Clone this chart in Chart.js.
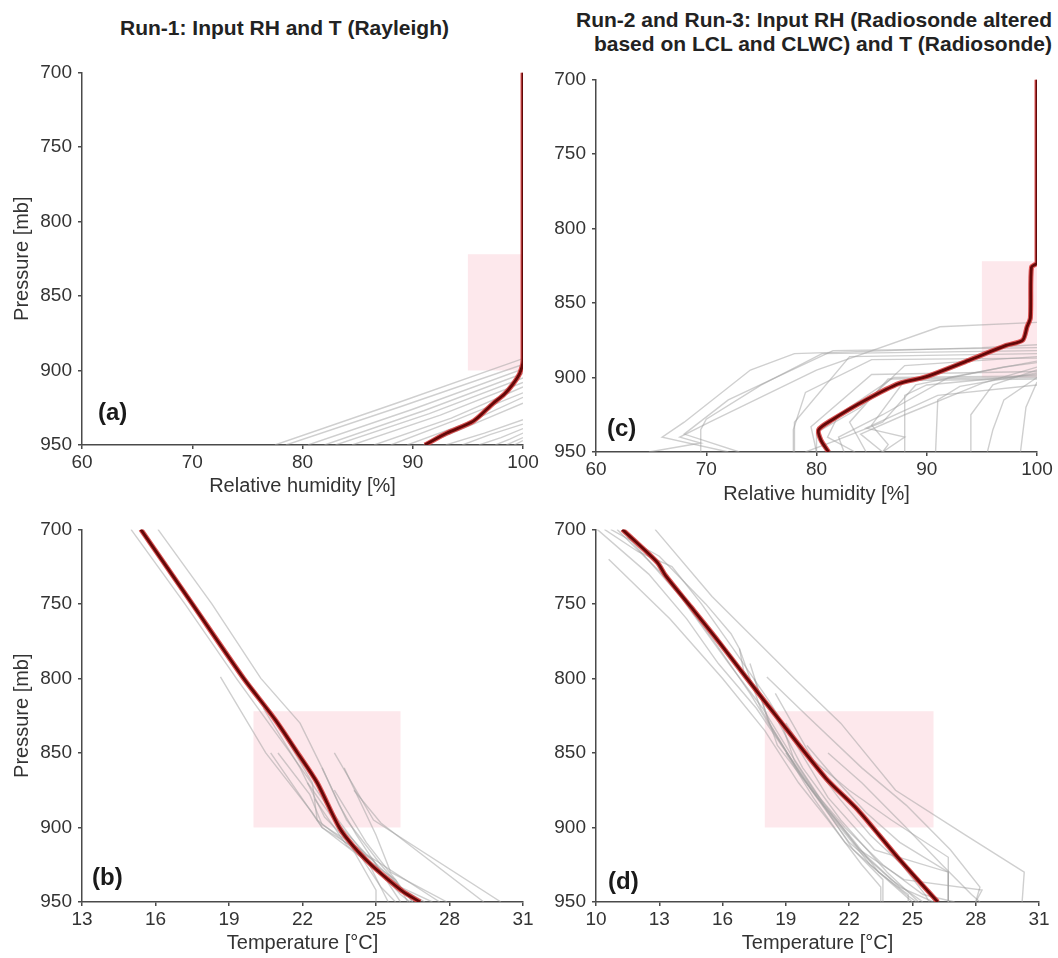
<!DOCTYPE html>
<html>
<head>
<meta charset="utf-8">
<script src="https://cdn.jsdelivr.net/npm/chart.js@4.4.1/dist/chart.umd.min.js"></script>
<style>
  html, body { margin: 0; padding: 0; background: #fff; overflow: hidden; }
  body { width: 1058px; height: 958px; position: relative; font-family: "Liberation Sans", Arial, sans-serif; }
  canvas { position: absolute; }
  .title { position: absolute; font-weight: bold; font-size: 21px; line-height: 24px; color: #222; white-space: nowrap; }
</style>
</head>
<body>
<div class="title" style="left:120px; top:16px;">Run-1: Input RH and T (Rayleigh)</div>
<div class="title" style="right:6px; top:8px; text-align:right;">Run-2 and Run-3: Input RH (Radiosonde altered<br>based on LCL and CLWC) and T (Radiosonde)</div>
<canvas id="chartA"></canvas>
<canvas id="chartB"></canvas>
<canvas id="chartC"></canvas>
<canvas id="chartD"></canvas>
<script>
// tick labels
const pressureTicks = [700, 750, 800, 850, 900, 950];
const rhTicks = [60, 70, 80, 90, 100];
const tempTicksRun1 = [13, 16, 19, 22, 25, 28, 31];
const tempTicksRun2 = [10, 13, 16, 19, 22, 25, 28, 31];

// shaded boxes [xMin, xMax, pTop, pBottom]
const boxA = [95, 100, 822, 900];
const boxB = [20, 26, 822, 900];
const boxC = [95, 100, 822, 900];
const boxD = [18, 26, 822, 900];

// (a) RH, Run-1 : [RH, p]
const rhMeanRun1 = [[100, 700], [100, 893], [99.7, 902], [99.1, 909], [98.3, 916], [97.3, 922], [95.5, 934], [93.1, 942], [91.1, 950]];
const rhProfilesRun1 = [
  [[100, 892], [88.5, 922], [77.5, 950]],
  [[100, 896], [89, 924], [78.5, 950]],
  [[100, 899], [90, 926], [80.5, 950]],
  [[100, 902], [91, 927], [82, 950]],
  [[100, 905], [91.5, 929], [83, 950]],
  [[100, 908], [92.5, 930], [84.5, 950]],
  [[100, 911], [93.5, 932], [86.5, 950]],
  [[100, 915], [94, 933], [88, 950]],
  [[100, 918], [95, 935], [89.5, 950]],
  [[100, 922], [95.5, 936], [91, 950]],
  [[100, 933], [96.5, 942], [93, 950]],
  [[100, 936], [97, 943], [94.5, 950]],
  [[100, 939], [98, 945], [96, 950]],
  [[100, 942], [98.8, 946], [97.5, 950]],
  [[100, 945], [98.5, 950]],
  [[100, 947], [99.2, 950]]
];

// (c) RH, Run-2/3
const rhMeanRun2 = [[100, 700], [100, 823], [99.5, 826], [99.4, 860], [99.1, 866], [98.7, 875], [97.2, 878.5], [93.8, 888.5], [89.9, 899.6], [87.5, 904], [84.5, 915], [81.4, 928.5], [80.2, 935], [80.4, 942], [81.1, 950]];
const rhProfilesRun2 = [
  [[100, 863], [91.2, 866], [80, 895], [70.3, 930], [67.6, 940], [69.5, 944], [64.8, 950]],
  [[100, 880], [81.5, 882], [72, 915], [68, 938], [73, 950]],
  [[100, 882], [80.5, 884], [75, 905], [70, 928], [69.5, 935], [69.5, 950]],
  [[100, 884], [83, 886], [78, 930], [78, 950]],
  [[100, 886], [88, 892], [84, 920], [80, 937], [80, 950]],
  [[100, 889], [92, 900], [86, 925], [82, 940], [82.5, 950]],
  [[100, 893], [95, 904], [88, 925], [84, 938], [86, 950]],
  [[100, 899], [87, 900], [82, 925], [81, 940], [83.5, 950]],
  [[100, 900], [86.5, 901], [83, 930], [84.5, 950]],
  [[100, 901], [88, 902], [85, 932], [86.5, 945], [86, 950]],
  [[100, 898], [90, 905], [88, 912], [88, 950]],
  [[100, 897], [93, 906], [91, 915], [90.8, 950]],
  [[100, 895], [96, 905], [94, 925], [94, 950]],
  [[100, 900], [97, 915], [96, 935], [95.5, 950]],
  [[100, 903], [99, 920], [98.5, 950]],
  [[100, 878], [95, 880], [78, 884], [74, 895], [68, 930], [66, 940], [72, 950]],
  [[100, 887], [85, 888], [79, 910], [77.9, 935], [77.9, 950]],
  [[100, 905], [91, 912], [84.5, 934], [88, 940], [86, 950]],
  [[100, 890], [97, 893], [89, 905], [86, 930], [81.5, 943], [79, 950]],
  [[100, 896], [85, 898], [79.5, 933], [80, 950]]
];

// (b) T, Run-1 : [T, p]
const tMeanRun1 = [[15.4, 700], [17.5, 750], [19.6, 800], [20.9, 828], [21.8, 850], [22.6, 870], [23.5, 900], [24.1, 913], [24.8, 925], [25.5, 935], [26.1, 943], [26.8, 950]];
const tProfilesRun1 = [
  [[15.0, 700], [17.2, 750], [19.3, 800], [21.5, 850], [23.0, 885], [24.6, 920], [26.0, 945], [26.4, 950]],
  [[16.1, 700], [18.3, 750], [20.3, 800], [21.9, 830], [22.8, 860], [23.8, 895], [25.2, 925], [26.5, 950]],
  [[18.65, 799], [20.5, 850], [22.4, 890], [22.8, 900], [24.7, 924], [25.5, 950]],
  [[20.7, 850], [22.8, 900], [24.9, 922], [26.0, 950]],
  [[23.3, 850], [24.9, 895], [30.1, 950]],
  [[24.1, 875], [25.2, 897], [29.4, 950]],
  [[23.3, 875], [24.6, 910], [26.5, 950]],
  [[22.5, 881], [23.8, 912], [25.8, 935], [26.3, 950]],
  [[22.8, 860], [23.5, 885], [24.2, 905], [25.4, 935], [27.0, 950]],
  [[21.0, 850], [22.3, 878], [22.8, 898], [24.4, 915], [26.0, 940], [27.3, 950]],
  [[22.2, 870], [23.2, 893], [24.6, 918], [27.6, 950]],
  [[23.7, 860], [25.0, 905], [25.6, 930], [27.9, 950]],
  [[20.4, 820], [21.9, 860], [22.9, 893], [24.2, 915], [25.2, 940], [25.8, 950]],
  [[20.9, 828], [22.4, 870], [22.6, 895], [24.0, 913], [25.0, 942], [25.0, 950]]
];

// (d) T, Run-2/3
const tMeanRun2 = [[11.25, 700], [12.9, 722], [13.3, 731], [14.5, 752], [15.8, 775], [17.1, 799], [18.7, 828], [20.9, 867], [22.4, 888], [24.3, 920], [26.2, 950]];
const tProfilesRun2 = [
  [[12.8, 700], [15.5, 745], [19.4, 800], [21.6, 830], [24.2, 875], [27.5, 905], [30.3, 930], [30.2, 950]],
  [[10.06, 700], [12.5, 730], [14.3, 760], [15.8, 790], [17.6, 820], [18.8, 845], [20.3, 875], [21.8, 900], [23.6, 925], [25.5, 945], [27.0, 950]],
  [[10.4, 700], [12.0, 715], [13.6, 725], [15.0, 750], [16.5, 780], [18.2, 815], [19.3, 840], [21.0, 880], [23.2, 915], [26.7, 930], [26.7, 950]],
  [[10.7, 700], [13.0, 718], [15.2, 750], [16.4, 770], [16.8, 780], [17.0, 795], [18.3, 820], [19.8, 860], [21.6, 895], [23.8, 930], [25.3, 950]],
  [[10.6, 720], [13.5, 760], [16.0, 800], [18.0, 835], [19.6, 870], [21.0, 895], [22.6, 925], [23.5, 940], [23.5, 950]],
  [[18.1, 799], [20.0, 825], [22.6, 860], [24.7, 885], [26.8, 915], [28.2, 940], [28.0, 950]],
  [[18.5, 810], [20.3, 855], [22.0, 875], [24.0, 895], [26.7, 920], [26.7, 950]],
  [[11.0, 700], [13.5, 735], [15.6, 775], [17.3, 810], [18.6, 840], [20.2, 875], [22.0, 910], [24.0, 935], [25.5, 950]],
  [[11.5, 705], [14.0, 745], [16.3, 790], [17.9, 820], [19.2, 850], [20.7, 882], [22.5, 915], [24.4, 940], [26.0, 950]],
  [[19.0, 830], [20.0, 852], [21.5, 880], [23.0, 905], [24.5, 925], [25.6, 945], [25.8, 950]],
  [[17.5, 800], [18.6, 845], [20.5, 880], [22.5, 915], [24.6, 935], [28.3, 942], [28.0, 950]],
  [[20.0, 845], [21.5, 870], [22.8, 890], [24.4, 910], [26.7, 930], [26.7, 950]],
  [[18.8, 830], [19.4, 855], [20.8, 885], [22.0, 905], [23.4, 930], [24.8, 945], [24.8, 950]],
  [[19.0, 850], [20.3, 880], [21.8, 910], [23.8, 935], [25.0, 950]],
  [[21.0, 850], [22.6, 870], [24.7, 900], [26.4, 925], [27.8, 945], [28.2, 950]],
  [[17.3, 790], [18.2, 830], [19.7, 865], [21.3, 895], [23.0, 925], [24.7, 945], [25.2, 950]],
  [[16.8, 780], [17.8, 820], [19.5, 860], [21.0, 890], [22.2, 915], [23.6, 935], [23.6, 950]]
];

const FONT = '"Liberation Sans", Arial, sans-serif';
const AXIS_COLOR = '#4a4a4a';

// pink box + panel letter
const panelDecor = {
  id: 'panelDecor',
  beforeDatasetsDraw(chart, args, opts) {
    const { ctx, scales: { x, y } } = chart;
    const b = opts.box;
    const x0 = x.getPixelForValue(b[0]);
    const x1 = x.getPixelForValue(b[1]);
    const y0 = y.getPixelForValue(b[2]);
    const y1 = y.getPixelForValue(b[3]);
    ctx.save();
    ctx.fillStyle = '#fde8ec';
    ctx.fillRect(x0, y0, x1 - x0, y1 - y0);
    ctx.restore();
  },
  afterDraw(chart, args, opts) {
    const { ctx, chartArea } = chart;
    ctx.save();
    ctx.font = 'bold 24px ' + FONT;
    ctx.fillStyle = '#1a1a1a';
    ctx.textBaseline = 'middle';
    ctx.fillText(opts.label, chartArea.left + opts.dx, chartArea.bottom - opts.dy);
    ctx.restore();
  }
};

function toPoints(arr) {
  return arr.map(d => ({ x: d[0], y: d[1] }));
}

function makePanel(id, cfg) {
  const yW = 76, padTop = 15, padRight = 22;
  const canvas = document.getElementById(id);
  const a = cfg.area;
  canvas.width = a.right - a.left + yW + padRight;
  canvas.height = a.bottom - a.top + padTop + cfg.xH;
  canvas.style.left = (a.left - yW) + 'px';
  canvas.style.top = (a.top - padTop) + 'px';

  // gray profiles underneath (higher order = drawn first)
  const datasets = cfg.profiles.map(p => ({
    data: toPoints(p),
    borderColor: 'rgba(160,160,160,0.5)',
    borderWidth: 1.4,
    pointRadius: 0,
    showLine: true,
    order: 3
  }));
  // mean profile: red halo + dark core, lightly smoothed
  datasets.push({ data: toPoints(cfg.mean), borderColor: 'rgba(215,55,55,0.85)', borderWidth: 5, pointRadius: 0, showLine: true, tension: 0.25, order: 2 });
  datasets.push({ data: toPoints(cfg.mean), borderColor: '#640808', borderWidth: 2.8, pointRadius: 0, showLine: true, tension: 0.25, order: 1 });

  const tickFont = { family: FONT, size: 19 };
  const titleFont = { family: FONT, size: 20 };

  new Chart(canvas, {
    type: 'scatter',
    data: { datasets },
    options: {
      responsive: false,
      animation: false,
      devicePixelRatio: 1,
      layout: { padding: { top: padTop, right: padRight, left: 0, bottom: 0 } },
      plugins: {
        legend: { display: false },
        tooltip: { enabled: false },
        panelDecor: { box: cfg.box, label: cfg.label, dx: cfg.labelDx, dy: cfg.labelDy }
      },
      scales: {
        x: {
          type: 'linear',
          position: 'bottom',
          min: cfg.xTicks[0],
          max: cfg.xTicks[cfg.xTicks.length - 1],
          afterBuildTicks: s => { s.ticks = cfg.xTicks.map(v => ({ value: v })); },
          afterFit: s => { s.height = cfg.xH; },
          ticks: { color: '#333', font: tickFont, padding: 2, maxRotation: 0, autoSkip: false },
          grid: { drawOnChartArea: false, drawTicks: true, tickLength: 4, color: AXIS_COLOR, lineWidth: 1.5 },
          border: { color: AXIS_COLOR, width: 1.5 },
          title: { display: true, text: cfg.xTitle, color: '#333', font: titleFont, padding: { top: 4, bottom: 4 } }
        },
        y: {
          type: 'linear',
          reverse: true,
          min: 700,
          max: 950,
          afterBuildTicks: s => { s.ticks = pressureTicks.map(v => ({ value: v })); },
          afterFit: s => { s.width = yW; },
          ticks: { color: '#333', font: tickFont, padding: 6, autoSkip: false },
          grid: { drawOnChartArea: false, drawTicks: true, tickLength: 4, color: AXIS_COLOR, lineWidth: 1.5 },
          border: { color: AXIS_COLOR, width: 1.5 },
          title: { display: cfg.yTitle, text: 'Pressure [mb]', color: '#333', font: titleFont, padding: { top: 4, bottom: 4 } }
        }
      }
    },
    plugins: [panelDecor]
  });
}

makePanel('chartA', {
  area: { left: 82, right: 523, top: 70, bottom: 445 }, xH: 57,
  xTicks: rhTicks, xTitle: 'Relative humidity [%]', yTitle: true,
  mean: rhMeanRun1, profiles: rhProfilesRun1, box: boxA,
  label: '(a)', labelDx: 16, labelDy: 32
});
makePanel('chartC', {
  area: { left: 596, right: 1037, top: 77, bottom: 452 }, xH: 58,
  xTicks: rhTicks, xTitle: 'Relative humidity [%]', yTitle: false,
  mean: rhMeanRun2, profiles: rhProfilesRun2, box: boxC,
  label: '(c)', labelDx: 11, labelDy: 23
});
makePanel('chartB', {
  area: { left: 82, right: 523, top: 527, bottom: 902 }, xH: 57,
  xTicks: tempTicksRun1, xTitle: 'Temperature [°C]', yTitle: true,
  mean: tMeanRun1, profiles: tProfilesRun1, box: boxB,
  label: '(b)', labelDx: 10, labelDy: 24
});
makePanel('chartD', {
  area: { left: 596, right: 1039, top: 527, bottom: 902 }, xH: 57,
  xTicks: tempTicksRun2, xTitle: 'Temperature [°C]', yTitle: false,
  mean: tMeanRun2, profiles: tProfilesRun2, box: boxD,
  label: '(d)', labelDx: 12, labelDy: 20
});
</script>
</body>
</html>
